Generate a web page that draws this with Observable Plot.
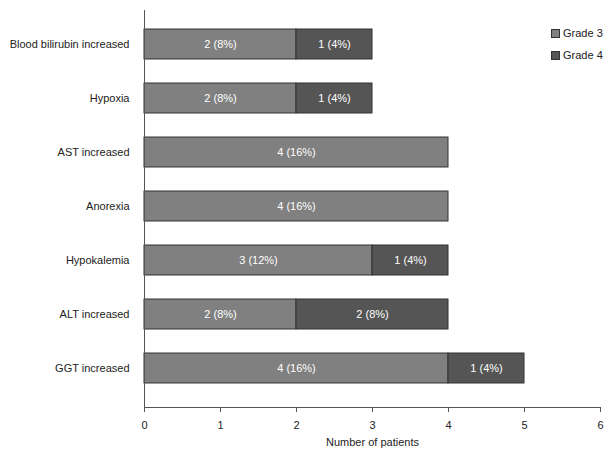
<!DOCTYPE html>
<html>
<head>
<meta charset="utf-8">
<script src="https://cdn.jsdelivr.net/npm/d3@7"></script>
<script src="https://cdn.jsdelivr.net/npm/@observablehq/plot@0.6"></script>
<style>
  body { margin: 0; background: #fff; }
  #wrap { position: relative; width: 613px; height: 453px; }
  .legend { position: absolute; left: 551px; font: 11px "Liberation Sans", Arial, sans-serif; color: #222; display: flex; align-items: center; }
  .legend span.sw { display: inline-block; width: 7px; height: 7px; border: 1px solid #333; margin-right: 3px; }
</style>
</head>
<body>
<div id="wrap"></div>
<script>
const categories = ["Blood bilirubin increased", "Hypoxia", "AST increased", "Anorexia", "Hypokalemia", "ALT increased", "GGT increased"];
const grades = ["Grade 3", "Grade 4"];
const grade3 = [2, 2, 4, 4, 3, 2, 4];
const grade4 = [1, 1, 0, 0, 1, 2, 1];
const grade3Labels = ["2 (8%)", "2 (8%)", "4 (16%)", "4 (16%)", "3 (12%)", "2 (8%)", "4 (16%)"];
const grade4Labels = ["1 (4%)", "1 (4%)", "", "", "1 (4%)", "2 (8%)", "1 (4%)"];
const xTicks = [0, 1, 2, 3, 4, 5, 6];
const colors = ["#808080", "#555555"];

const rows = [];
categories.forEach((c, i) => {
  if (grade3[i] > 0) rows.push({cat: c, grade: grades[0], value: grade3[i], label: grade3Labels[i]});
  if (grade4[i] > 0) rows.push({cat: c, grade: grades[1], value: grade4[i], label: grade4Labels[i]});
});

const font = '"Liberation Sans", Arial, sans-serif';
const chart = Plot.plot({
  width: 613,
  height: 453,
  marginLeft: 144,
  marginRight: 13,
  marginTop: 10,
  marginBottom: 46,
  style: {fontFamily: font, fontSize: "11px", color: "#222", background: "#fff"},
  x: {domain: [0, 6], ticks: xTicks, label: null},
  y: {domain: categories, range: [14, 398], paddingInner: 0.44, paddingOuter: 0.22, label: null},
  color: {domain: grades, range: colors},
  marks: [
    Plot.barX(rows, Plot.stackX({x: "value", y: "cat", fill: "grade", stroke: "#333", strokeWidth: 1, order: null})),
    Plot.text(rows, Plot.stackX({x: "value", y: "cat", z: "grade", text: "label", fill: "white", fontSize: 11, order: null})),
    Plot.frame({anchor: "left", stroke: "#555"}),
    Plot.frame({anchor: "bottom", stroke: "#555"}),
    Plot.axisX({ticks: xTicks, tickFormat: d3.format("d"), tickSize: 5, tickPadding: 9, stroke: "#555", fill: "#222", label: null}),
    Plot.axisY({tickSize: 0, tickPadding: 15, fill: "#222", label: null}),
    Plot.text(["Number of patients"], {frameAnchor: "bottom", dy: 38, fill: "#222", fontSize: 11})
  ]
});
const wrap = document.getElementById("wrap");
wrap.appendChild(chart);
grades.forEach((g, i) => {
  const d = document.createElement("div");
  d.className = "legend";
  d.style.top = (i === 0 ? 27 : 49) + "px";
  d.innerHTML = `<span class="sw" style="background:${colors[i]}"></span>${g}`;
  wrap.appendChild(d);
});
</script>
</body>
</html>
